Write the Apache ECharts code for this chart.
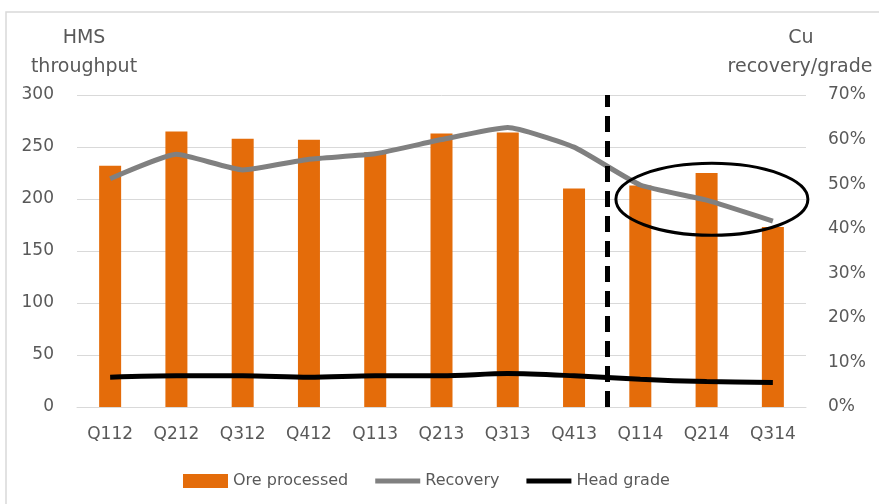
<!DOCTYPE html>
<html>
<head>
<meta charset="utf-8">
<script src="https://cdn.jsdelivr.net/npm/echarts@6/dist/echarts.min.js"></script>
<style>
  html, body { margin: 0; padding: 0; background: #fff; }
  #chart { width: 879px; height: 504px; }
</style>
</head>
<body>
<div id="chart"></div>
<script>
// quarters
var quarters = ['Q112', 'Q212', 'Q312', 'Q412', 'Q113', 'Q213', 'Q313', 'Q413', 'Q114', 'Q214', 'Q314'];
// HMS throughput (left axis)
var oreProcessed = [232, 265, 258, 257, 245, 263, 264, 210, 213, 225, 173];
// Cu recovery / head grade, % (right axis)
var recovery = [51.2, 56.7, 53.2, 55.6, 56.8, 60.0, 62.7, 58.3, 49.8, 46.4, 41.7];
var headGrade = [6.7, 7.0, 7.0, 6.7, 7.0, 7.0, 7.5, 7.0, 6.2, 5.7, 5.5];
var leftTicks = [0, 50, 100, 150, 200, 250, 300];
var rightTicks = [0, 10, 20, 30, 40, 50, 60, 70];
// divider sits between Q413 and Q114
var dividerAt = 8;

var FONT = 'DejaVu Sans';
var TXT = '#595959';

// legend icons: extra moves keep the box at 45x14 so the stroke stays thin
var lineIcon = 'path://M0,0 M45,14 M0,4.5 L45,4.5 L45,9.5 L0,9.5 Z';

var chart = echarts.init(document.getElementById('chart'));

chart.setOption({
  backgroundColor: '#fff',
  animation: false,
  textStyle: { fontFamily: FONT },
  grid: { left: 77, right: 73, top: 95, bottom: 97 },
  legend: {
    top: 468,
    left: 178,
    data: [
      { name: 'Ore processed', icon: 'rect' },
      { name: 'Recovery', icon: lineIcon },
      { name: 'Head grade', icon: lineIcon }
    ],
    itemWidth: 45,
    itemHeight: 14,
    itemGap: 27,
    textStyle: { fontFamily: FONT, fontSize: 16, color: TXT }
  },
  xAxis: [{
    type: 'category',
    data: quarters,
    axisTick: { show: false },
    axisLine: { lineStyle: { color: '#d9d9d9', width: 1 } },
    axisLabel: { color: TXT, fontSize: 17, fontFamily: FONT, margin: 19 }
  }, {
    type: 'value',
    min: 0,
    max: quarters.length,
    show: false
  }],
  yAxis: [{
    type: 'value',
    min: leftTicks[0],
    max: leftTicks[leftTicks.length - 1],
    interval: 50,
    axisLine: { show: false },
    axisTick: { show: false },
    splitLine: { lineStyle: { color: '#d9d9d9', width: 1 } },
    axisLabel: { color: TXT, fontSize: 17, fontFamily: FONT, margin: 23 }
  }, {
    type: 'value',
    min: rightTicks[0],
    max: rightTicks[rightTicks.length - 1],
    interval: 10,
    axisLine: { show: false },
    axisTick: { show: false },
    splitLine: { show: false },
    axisLabel: { color: TXT, fontSize: 17, fontFamily: FONT, margin: 22, formatter: '{value}%' }
  }],
  series: [{
    name: 'Ore processed',
    type: 'bar',
    data: oreProcessed,
    barWidth: 22,
    itemStyle: { color: '#E46C0A' }
  }, {
    name: 'Recovery',
    type: 'line',
    yAxisIndex: 1,
    data: recovery,
    symbol: 'none',
    smooth: 0.15,
    lineStyle: { color: '#808080', width: 5 },
    itemStyle: { color: '#808080' }
  }, {
    name: 'Head grade',
    type: 'line',
    yAxisIndex: 1,
    data: headGrade,
    symbol: 'none',
    smooth: 0.3,
    lineStyle: { color: '#000', width: 5 },
    itemStyle: { color: '#000' }
  }, {
    // vertical divider
    name: 'divider',
    type: 'line',
    xAxisIndex: 1,
    data: [],
    silent: true,
    markLine: {
      symbol: ['none', 'none'],
      label: { show: false },
      lineStyle: { color: '#000', width: 5, type: [16, 9] },
      data: [{ xAxis: dividerAt }]
    }
  }]
});

// axis titles, frame and the highlight ellipse
function drawExtras() {
  var c = chart.convertToPixel({ xAxisIndex: 1, yAxisIndex: 1 }, [9.58, 46.6]);
  var titleFont = '19px "' + FONT + '"';
  chart.setOption({
    graphic: [{
      type: 'rect',
      shape: { x: 6, y: 12, width: 900, height: 520 },
      style: { fill: 'none', stroke: '#d9d9d9', lineWidth: 1.5 },
      silent: true
    }, {
      type: 'text', x: 84, y: 38,
      style: { text: 'HMS', font: titleFont, fill: TXT, align: 'center', verticalAlign: 'middle' }
    }, {
      type: 'text', x: 84, y: 67,
      style: { text: 'throughput', font: titleFont, fill: TXT, align: 'center', verticalAlign: 'middle' }
    }, {
      type: 'text', x: 801, y: 38,
      style: { text: 'Cu', font: titleFont, fill: TXT, align: 'center', verticalAlign: 'middle' }
    }, {
      type: 'text', x: 800, y: 67,
      style: { text: 'recovery/grade', font: titleFont, fill: TXT, align: 'center', verticalAlign: 'middle' }
    }, {
      type: 'ellipse',
      shape: { cx: c[0], cy: c[1], rx: 96, ry: 36 },
      style: { fill: 'none', stroke: '#000', lineWidth: 3 },
      z: 20,
      silent: true
    }]
  });
}
drawExtras();
</script>
</body>
</html>
